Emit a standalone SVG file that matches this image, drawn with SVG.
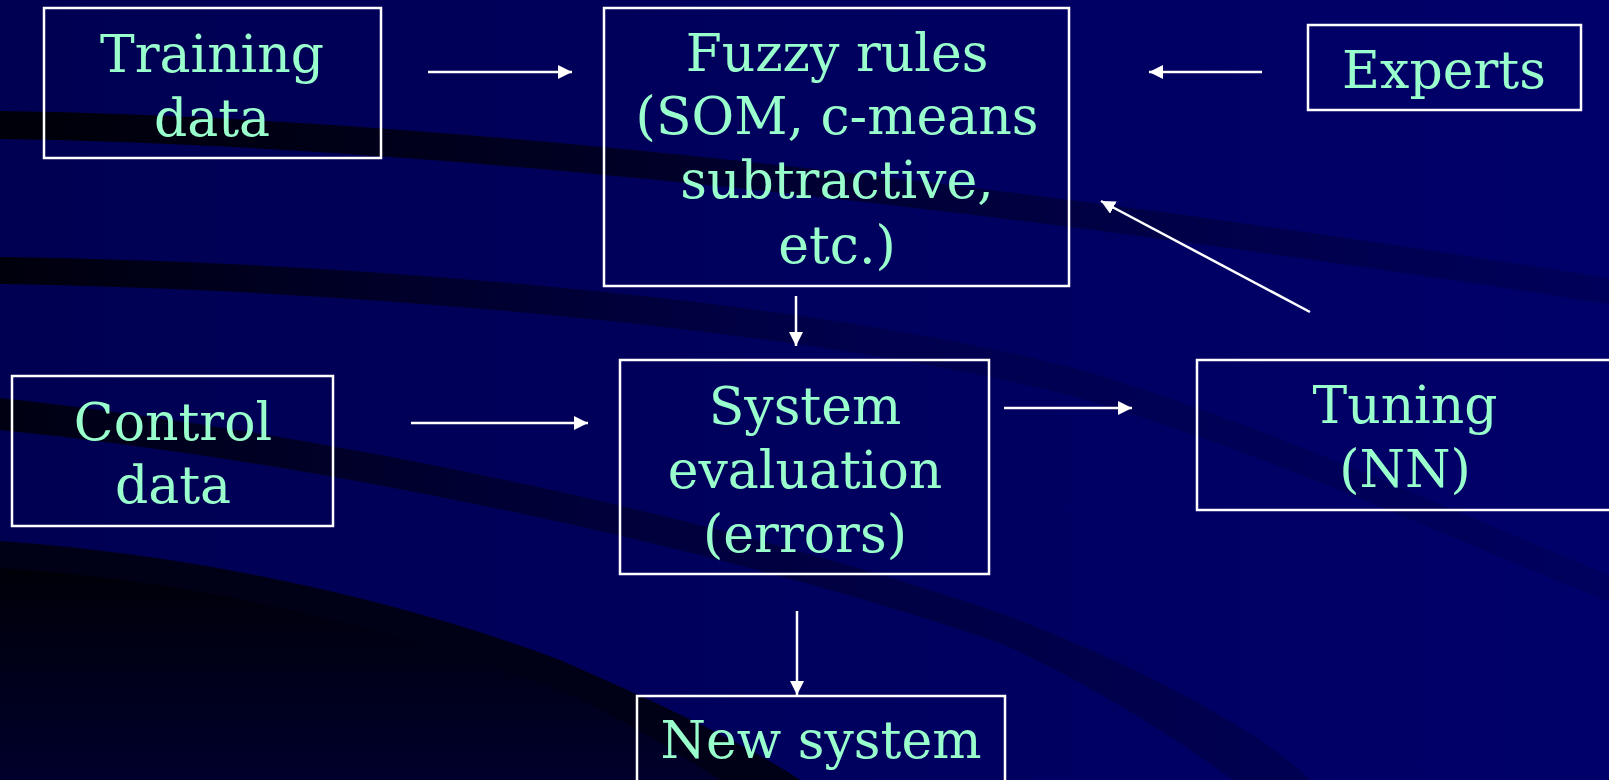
<svg xmlns="http://www.w3.org/2000/svg" width="1609" height="780" viewBox="0 0 1609 780">
  <style>
    .box { fill: none; stroke: #FFFFFF; stroke-width: 2.5; }
    .lbl { font-family: "DejaVu Serif", "Liberation Serif", serif; font-size: 52px; fill: #99FFCC; text-anchor: middle; }
    .edge { stroke: #FFFFFF; stroke-width: 2.5; fill: none; marker-end: url(#ah); }
  </style>
  <defs>
    <marker id="ah" markerUnits="userSpaceOnUse" markerWidth="16" markerHeight="16" refX="14" refY="7" orient="auto">
      <path d="M0,0 L14,7 L0,14 Z" fill="#FFFFFF"/>
    </marker>
    <linearGradient id="bg" x1="0" y1="0" x2="1" y2="0">
      <stop offset="0" stop-color="#000052"/>
      <stop offset="1" stop-color="#00006a"/>
    </linearGradient>
    <linearGradient id="bandA" gradientUnits="userSpaceOnUse" x1="0" y1="0" x2="1609" y2="0">
      <stop offset="0" stop-color="#000008"/>
      <stop offset="0.35" stop-color="#000022"/>
      <stop offset="0.7" stop-color="#000046"/>
      <stop offset="1" stop-color="#00005a"/>
    </linearGradient>
    <linearGradient id="bandB" gradientUnits="userSpaceOnUse" x1="0" y1="0" x2="1609" y2="0">
      <stop offset="0" stop-color="#00000c"/>
      <stop offset="0.3" stop-color="#000030"/>
      <stop offset="0.55" stop-color="#00004e"/>
      <stop offset="1" stop-color="#00005e"/>
    </linearGradient>
    <linearGradient id="bandC" gradientUnits="userSpaceOnUse" x1="0" y1="0" x2="1300" y2="0">
      <stop offset="0" stop-color="#000012"/>
      <stop offset="0.45" stop-color="#00003a"/>
      <stop offset="1" stop-color="#000052"/>
    </linearGradient>
    <linearGradient id="dark" x1="0" y1="0" x2="0" y2="1">
      <stop offset="0" stop-color="#000008"/>
      <stop offset="1" stop-color="#00002c"/>
    </linearGradient>
  </defs>

  <g id="background">
    <rect x="0" y="0" width="1609" height="780" fill="url(#bg)"/>
    <path d="M0,111 C300,115 800,150 1609,278 L1609,304 C800,178 300,143 0,139 Z" fill="url(#bandA)"/>
    <path d="M0,257 C400,262 900,310 1120,382 C1300,440 1450,510 1609,575 L1609,602 C1450,538 1300,468 1120,410 C900,340 400,290 0,284 Z" fill="url(#bandB)"/>
    <path d="M0,398 C300,430 700,510 1000,613 C1100,650 1250,720 1310,780 L1233,780 C1150,720 1080,680 1000,643 C700,540 300,460 0,430 Z" fill="url(#bandC)"/>
    <path d="M0,541 C200,555 400,600 560,660 C640,695 740,740 800,780 L0,780 Z" fill="#000016"/>
    <path d="M0,568 C200,580 400,630 560,690 C610,712 670,748 720,780 L0,780 Z" fill="url(#dark)"/>
  </g>

  <g id="connectors">
    <line class="edge" x1="428" y1="72" x2="572" y2="72"/>
    <line class="edge" x1="1262" y1="72" x2="1149" y2="72"/>
    <line class="edge" x1="1310" y1="312" x2="1101" y2="201"/>
    <line class="edge" x1="796" y1="296" x2="796" y2="346"/>
    <line class="edge" x1="411" y1="423" x2="588" y2="423"/>
    <line class="edge" x1="1004" y1="408" x2="1132" y2="408"/>
    <line class="edge" x1="797" y1="611" x2="797" y2="695"/>
  </g>

  <g id="training">
    <rect class="box" x="44" y="8" width="337" height="150"/>
    <text class="lbl" x="212" y="72">Training</text>
    <text class="lbl" x="212" y="136">data</text>
  </g>

  <g id="fuzzy">
    <rect class="box" x="604" y="8" width="465" height="278"/>
    <text class="lbl" x="837" y="71">Fuzzy rules</text>
    <text class="lbl" x="837" y="134">(SOM, c-means</text>
    <text class="lbl" x="837" y="198">subtractive,</text>
    <text class="lbl" x="837" y="263">etc.)</text>
  </g>

  <g id="experts">
    <rect class="box" x="1308" y="25" width="273" height="85"/>
    <text class="lbl" x="1444" y="88">Experts</text>
  </g>

  <g id="control">
    <rect class="box" x="12" y="376" width="321" height="150"/>
    <text class="lbl" x="173" y="440">Control</text>
    <text class="lbl" x="173" y="503">data</text>
  </g>

  <g id="evaluation">
    <rect class="box" x="620" y="360" width="369" height="214"/>
    <text class="lbl" x="805" y="424">System</text>
    <text class="lbl" x="805" y="488">evaluation</text>
    <text class="lbl" x="805" y="552">(errors)</text>
  </g>

  <g id="tuning">
    <rect class="box" x="1197" y="360" width="420" height="150"/>
    <text class="lbl" x="1405" y="423">Tuning</text>
    <text class="lbl" x="1405" y="487">(NN)</text>
  </g>

  <g id="newsystem">
    <rect class="box" x="637" y="696" width="368" height="100"/>
    <text class="lbl" x="821" y="758">New system</text>
  </g>
</svg>
